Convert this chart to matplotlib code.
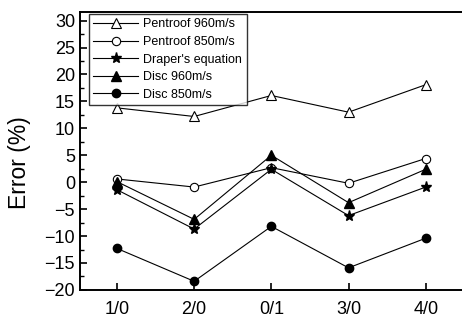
import matplotlib
matplotlib.use("Agg")
import matplotlib.pyplot as plt
from matplotlib.ticker import MultipleLocator

plt.rcParams['font.family'] = ['Liberation Sans', 'DejaVu Sans']

categories = ["1/0", "2/0", "0/1", "3/0", "4/0"]
pentroof_960 = [13.8, 12.2, 16.1, 13.0, 18.1]
pentroof_850 = [0.6, -0.9, 2.7, -0.2, 4.4]
draper = [-1.4, -8.7, 2.4, -6.2, -0.9]
disc_960 = [0.1, -6.9, 5.0, -3.8, 2.4]
disc_850 = [-12.3, -18.4, -8.2, -15.9, -10.4]

fig = plt.figure(figsize=(4.62, 3.2), dpi=100)
ax = fig.add_axes([0.173, 0.094, 0.827, 0.8685])

x = list(range(len(categories)))
lw = 0.8
ms = 7
ax.plot(x, pentroof_960, color='black', lw=lw, marker='^', ms=ms, mfc='white', mec='black', mew=0.8, label='Pentroof 960m/s')
ax.plot(x, pentroof_850, color='black', lw=lw, marker='o', ms=ms - 1, mfc='white', mec='black', mew=0.8, label='Pentroof 850m/s')
ax.plot(x, draper, color='black', lw=lw, marker='*', ms=ms + 1, mfc='black', mec='black', label="Draper's equation")
ax.plot(x, disc_960, color='black', lw=lw, marker='^', ms=ms, mfc='black', mec='black', label='Disc 960m/s')
ax.plot(x, disc_850, color='black', lw=lw, marker='o', ms=ms - 1, mfc='black', mec='black', label='Disc 850m/s')

ax.set_xlim(-0.48, 4.47)
ax.set_ylim(-20, 31.6)
ax.set_xticks(x)
ax.set_xticklabels(categories)
ax.yaxis.set_major_locator(MultipleLocator(5))
ax.yaxis.set_minor_locator(MultipleLocator(2.5))
ax.tick_params(axis='both', which='major', direction='in', length=5, width=1.2, labelsize=13, colors='black')
ax.tick_params(axis='y', which='minor', direction='in', length=3, width=1.0)
ax.tick_params(axis='x', which='major', pad=8)
ax.spines['right'].set_visible(False)
for s in ['left', 'bottom', 'top']:
    ax.spines[s].set_linewidth(1.4)

ax.set_ylabel('Error (%)', fontsize=16.5)
ax.yaxis.set_label_coords(-0.128, 0.457)

leg = ax.legend(loc='upper left', bbox_to_anchor=(0.024, 0.993), borderaxespad=0,
                fontsize=9, frameon=True, fancybox=False, edgecolor='black',
                handlelength=3.6, labelspacing=0.45, handletextpad=0.4,
                borderpad=0.35)
leg.get_frame().set_linewidth(1.0)

fig.savefig('out.png', dpi=100)
